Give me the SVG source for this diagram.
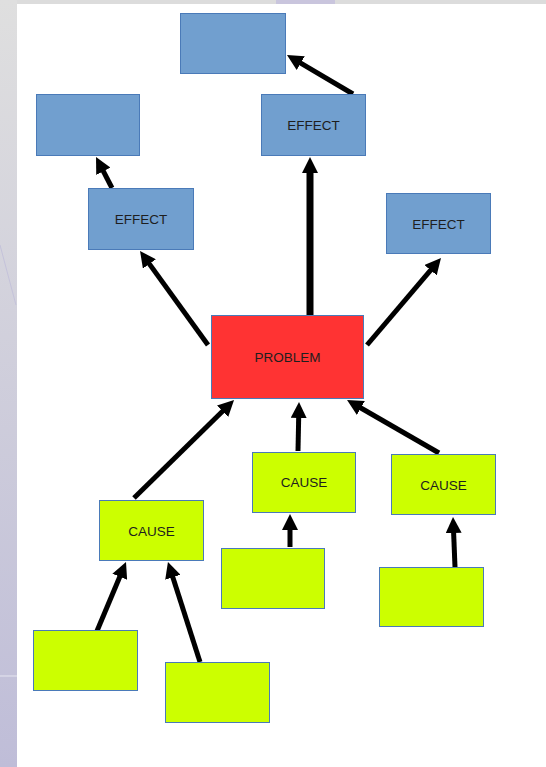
<svg xmlns="http://www.w3.org/2000/svg" width="546" height="767" viewBox="0 0 546 767">
<defs>
<linearGradient id="side" x1="0" y1="0" x2="0" y2="1">
<stop offset="0" stop-color="#dfdfdf"/>
<stop offset="1" stop-color="#bfbdd8"/>
</linearGradient>
<marker id="ah" viewBox="0 0 16 16" refX="6" refY="8" markerWidth="16" markerHeight="16" markerUnits="userSpaceOnUse" orient="auto">
<path d="M0,0 L16,8 L0,16 z" fill="#000"/>
</marker>
</defs>
<style>
.eff{fill:#719fcf;stroke:#4a7ab8;stroke-width:1}
.prob{fill:#ff3333;stroke:#4a7ab8;stroke-width:1}
.cause{fill:#ccff00;stroke:#4a7ab8;stroke-width:1}
.lbl{font-family:"Liberation Sans",Arial,sans-serif;font-size:13.5px;fill:#1e1e1e;text-anchor:middle;dominant-baseline:central}
.ar{stroke:#000;stroke-width:5;fill:none;marker-end:url(#ah)}
</style>
<rect x="0" y="0" width="546" height="767" fill="#dcdcdc"/>
<rect x="0" y="0" width="17" height="767" fill="url(#side)"/>
<rect x="276" y="0" width="59" height="4" fill="#c9c5dd"/>
<line x1="0" y1="245" x2="16" y2="305" stroke="#c4c2da" stroke-width="1"/>
<line x1="0" y1="676" x2="17" y2="676" stroke="#e6e6f0" stroke-width="1"/>
<rect x="17" y="4" width="529" height="763" fill="#ffffff"/>

<g id="connectors">
<path class="ar" d="M353,94 L295.6,60.1"/>
<path class="ar" d="M112,188 L100.6,165.9"/>
<path class="ar" d="M310,315 L310,167" style="stroke-width:7"/>
<path class="ar" d="M208,345 L145.9,259.1"/>
<path class="ar" d="M367,345 L434.5,265.6"/>
<path class="ar" d="M134,498 L226.9,407"/>
<path class="ar" d="M298,451 L298.8,412"/>
<path class="ar" d="M439,453 L355.7,405"/>
<path class="ar" d="M290,547 L290,524"/>
<path class="ar" d="M455,567 L453.4,527"/>
<path class="ar" d="M97,631 L122.1,571.2"/>
<path class="ar" d="M200,662 L171,571.5"/>
</g>

<g id="effect-top-blank"><rect class="eff" x="180.5" y="13.5" width="105" height="60"/></g>
<g id="effect-left-blank"><rect class="eff" x="36.5" y="94.5" width="103" height="61"/></g>
<g id="effect-center"><rect class="eff" x="261.5" y="94.5" width="104" height="61"/><text class="lbl" x="313.5" y="125">EFFECT</text></g>
<g id="effect-left"><rect class="eff" x="88.5" y="188.5" width="105" height="61"/><text class="lbl" x="141" y="219">EFFECT</text></g>
<g id="effect-right"><rect class="eff" x="386.5" y="193.5" width="104" height="60"/><text class="lbl" x="438.5" y="224">EFFECT</text></g>
<g id="problem"><rect class="prob" x="211.5" y="315.5" width="152" height="83"/><text class="lbl" x="287.5" y="357">PROBLEM</text></g>
<g id="cause-middle"><rect class="cause" x="252.5" y="452.5" width="103" height="60"/><text class="lbl" x="304" y="482">CAUSE</text></g>
<g id="cause-right"><rect class="cause" x="391.5" y="454.5" width="104" height="60"/><text class="lbl" x="443.5" y="485">CAUSE</text></g>
<g id="cause-left"><rect class="cause" x="99.5" y="500.5" width="104" height="60"/><text class="lbl" x="151.5" y="531">CAUSE</text></g>
<g id="cause-middle-sub"><rect class="cause" x="221.5" y="548.5" width="103" height="60"/></g>
<g id="cause-right-sub"><rect class="cause" x="379.5" y="567.5" width="104" height="59"/></g>
<g id="cause-left-sub1"><rect class="cause" x="33.5" y="630.5" width="104" height="60"/></g>
<g id="cause-left-sub2"><rect class="cause" x="165.5" y="662.5" width="104" height="60"/></g>
</svg>
